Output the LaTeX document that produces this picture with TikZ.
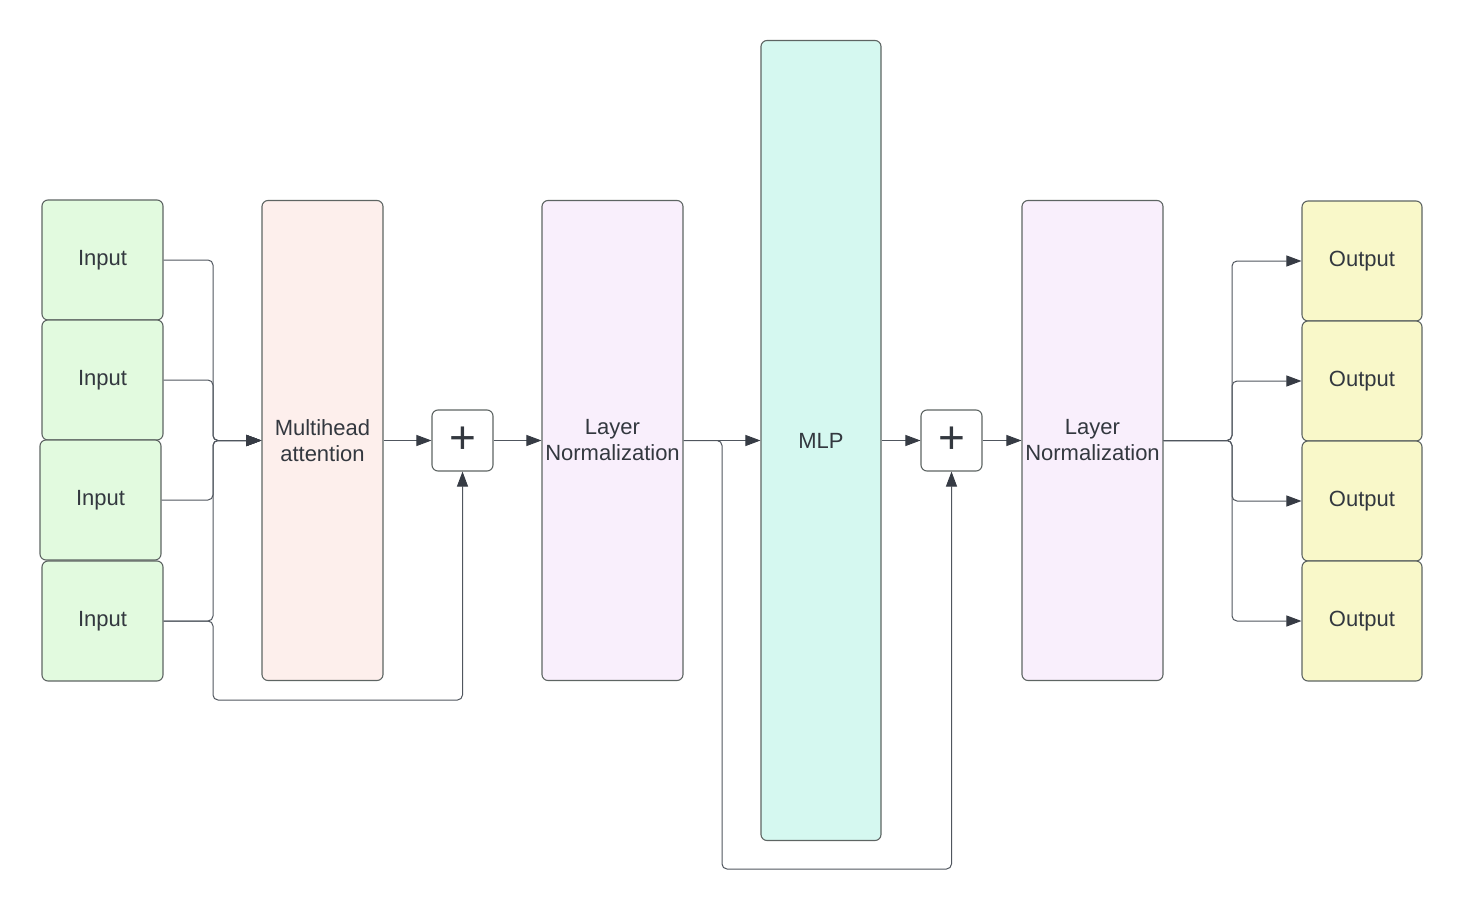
\documentclass[tikz,border=0pt]{standalone}
\usepackage{fontspec}
\setmainfont{Liberation Sans}
\usetikzlibrary{arrows.meta,positioning}
\definecolor{inGreen}{HTML}{E2FADF}
\definecolor{mhaPink}{HTML}{FDEFEC}
\definecolor{lnLilac}{HTML}{F9EFFC}
\definecolor{mlpCyan}{HTML}{D5F8F0}
\definecolor{outYellow}{HTML}{F9F8C9}
\definecolor{edgeGray}{HTML}{5E6563}
\definecolor{linkGray}{HTML}{50565E}
\definecolor{tipGray}{HTML}{363B44}
\definecolor{txtGray}{HTML}{33383F}
\tikzset{
     box/.style    = {draw=edgeGray, line width=0.55pt, rounded corners=3pt, text=txtGray,
                      font=\fontsize{11}{13}\selectfont, align=center, inner sep=0pt},
     inbox/.style  = {box, fill=inGreen, minimum width=60.5pt, minimum height=60pt},
     outbox/.style = {box, fill=outYellow, minimum width=60pt, minimum height=60pt},
     mhabox/.style = {box, fill=mhaPink, minimum width=60.5pt, minimum height=240pt},
     lnbox/.style  = {box, fill=lnLilac, minimum width=70.5pt, minimum height=240pt},
     mlpbox/.style = {box, fill=mlpCyan, minimum width=60pt, minimum height=400pt},
     plusbox/.style = {box, fill=white, minimum width=30.5pt, minimum height=30.5pt,
                      font=\fontsize{23}{23}\selectfont},
     link/.style   = {draw=linkGray, line width=0.5pt, rounded corners=2.5pt,
                      -{Triangle[length=7.5pt,width=5.5pt,color=tipGray]}},
     skip/.style   = {link},
    }

\begin{document}
\begin{tikzpicture}[x=0.5pt,y=-0.5pt,on grid]
            \useasboundingbox (0,0) rectangle (1463,910);

            % inputs
            \node [inbox] (in1) at (102.5,260)          {Input};
            \node [inbox] (in2) [below=60pt of in1]     {Input};
            \node [inbox] (in3) [below=60pt of in2, xshift=-1pt] {Input};
            \node [inbox] (in4) [below=60.5pt of in3, xshift=1pt] {Input};

            % main chain
            \node [mhabox]  (mha)   at (322.5,440.5)      {Multihead\\attention};
            \node [plusbox] (plus1) [right=70pt of mha]   {+};
            \node [lnbox]   (ln1)   [right=75pt of plus1] {Layer\\Normalization};
            \node [mlpbox]  (mlp)   [right=104.25pt of ln1] {MLP};
            \node [plusbox] (plus2) [right=65.25pt of mlp] {+};
            \node [lnbox]   (ln2)   [right=70.5pt of plus2] {Layer\\Normalization};

            % outputs
            \node [outbox] (out1) at (1362,261)          {Output};
            \node [outbox] (out2) [below=60pt of out1]   {Output};
            \node [outbox] (out3) [below=60pt of out2]   {Output};
            \node [outbox] (out4) [below=60pt of out3]   {Output};

            \coordinate (jIn)   at (213,440.5);
            \coordinate (jSk1)  at (213,700);
            \coordinate (jMid)  at (722,440.5);
            \coordinate (jSk2)  at (722,869);
            \coordinate (jOut)  at (1232,440.5);

            \foreach \i in {1,...,4}
                \draw [link] (in\i.east) -| (jIn) -- (mha.west);
            \draw [skip] (in4.east) -| (jSk1) -| (plus1.south);

            \draw [link] (mha.east) -- (plus1.west);
            \draw [link] (plus1.east) -- (ln1.west);
            \draw [link] (ln1.east) -- (jMid) -- (mlp.west);
            \draw [skip] (ln1.east) -| (jSk2) -| (plus2.south);
            \draw [link] (mlp.east) -- (plus2.west);
            \draw [link] (plus2.east) -- (ln2.west);

            \foreach \i in {1,...,4}
                \draw [link] (ln2.east) -- (jOut) |- (out\i.west);
      \end{tikzpicture}
\end{document}
